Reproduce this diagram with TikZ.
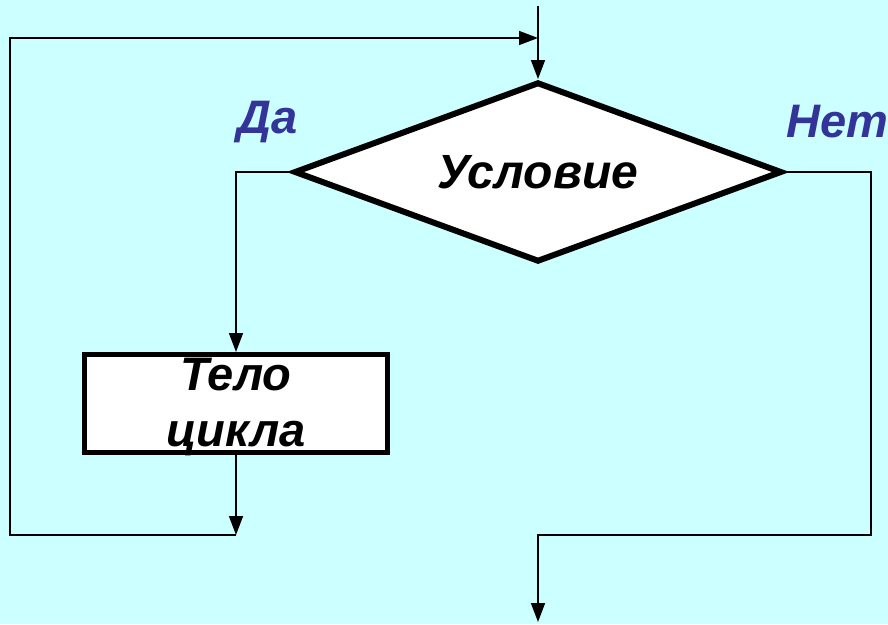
\documentclass[tikz,border=0pt]{standalone}
\usepackage{fontspec}
\setmainfont{Liberation Sans}
\usetikzlibrary{shapes.geometric,arrows.meta}
\definecolor{bgcyan}{HTML}{CCFFFF}
\definecolor{lblblue}{HTML}{333399}
\tikzset{
  conn/.style={line width=1.6pt, draw=black},
  arr/.style={conn, -{Triangle[length=19pt,width=14pt]}},
  decision/.style={diamond, shape aspect=2.7, draw=black, fill=white, line width=6pt, inner sep=0pt,
    minimum width=488pt, minimum height=180pt, text depth=0pt,
    font=\fontsize{48}{52}\selectfont\bfseries\itshape},
  process/.style={rectangle, draw=black, fill=white, line width=5pt, inner sep=0pt,
    minimum width=303pt, minimum height=98pt},
  bodytext/.style={align=center, inner sep=0pt, font=\fontsize{47}{56}\selectfont\bfseries\itshape},
  lbl/.style={text=lblblue, inner sep=0pt, font=\fontsize{47}{52}\selectfont\bfseries\itshape}
}
\begin{document}
\begin{tikzpicture}[x=1pt,y=-1pt]
\fill[bgcyan] (0,0) rectangle (888,624);
\useasboundingbox (0,0) rectangle (888,624);
\node[decision] (cond) at (538,172) {Условие};
\node[process] (body) at (236,403.5) {};
\node[bodytext, anchor=north] (bodyt) at (236,357.5) {Тело\\цикла};
\node[lbl] (yes) at (268,122) {Да};
\node[lbl] (no) at (837,122) {Нет};
\coordinate (start) at (538,6);
\coordinate (lc) at (236,535);
\coordinate (lbl1) at (10,535);
\coordinate (ltl) at (10,38);
\coordinate (lend) at (538,38);
\coordinate (dal) at (236,172);
\coordinate (ntr) at (871,172);
\coordinate (nbr) at (871,535);
\coordinate (nbm) at (538,535);
\coordinate (finish) at (538,622);
\draw[arr] (start) -- (cond.north);
\draw[arr] (cond.west) -- (dal) -- (body.north);
\draw[arr] (body.south) -- (lc);
\draw[arr] (lc) -- (lbl1) -- (ltl) -- (lend);
\draw[arr] (cond.east) -- (ntr) -- (nbr) -- (nbm) -- (finish);
\end{tikzpicture}
\end{document}
